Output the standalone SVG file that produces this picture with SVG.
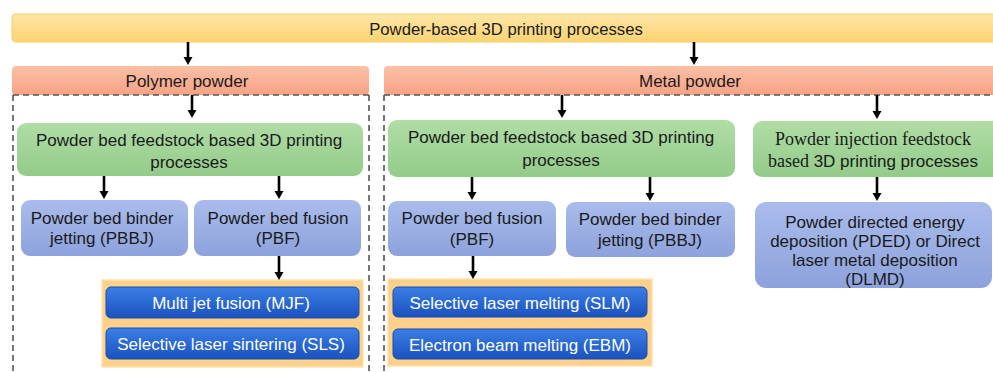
<svg xmlns="http://www.w3.org/2000/svg" width="993" height="372" viewBox="0 0 993 372">
<defs>
  <linearGradient id="gTop" x1="0" y1="0" x2="0" y2="1"><stop offset="0" stop-color="#FFE6A6"/><stop offset="1" stop-color="#FFD372"/></linearGradient>
  <linearGradient id="gSal" x1="0" y1="0" x2="0" y2="1"><stop offset="0" stop-color="#FCC0A6"/><stop offset="1" stop-color="#F6A284"/></linearGradient>
  <linearGradient id="gGreen" x1="0" y1="0" x2="0" y2="1"><stop offset="0" stop-color="#B0DDA6"/><stop offset="1" stop-color="#93CB89"/></linearGradient>
  <linearGradient id="gBlue" x1="0" y1="0" x2="0" y2="1"><stop offset="0" stop-color="#AABCEC"/><stop offset="1" stop-color="#8DA2DC"/></linearGradient>
  <linearGradient id="gBtn" x1="0" y1="0" x2="0" y2="1"><stop offset="0" stop-color="#3A7FE6"/><stop offset="1" stop-color="#1B52BE"/></linearGradient>
  <marker id="ah" viewBox="0 0 10 10" markerUnits="userSpaceOnUse" markerWidth="10" markerHeight="10" refX="2" refY="5" orient="auto">
    <path d="M0,0.5 L8,5 L0,9.5 z" fill="#000"/>
  </marker>
</defs>
<style>
  text { font-family: "Liberation Sans", Arial, sans-serif; font-size: 17px; fill: #1a1a1a; text-anchor: middle; }
  .serif { font-family: "Liberation Serif", "Times New Roman", serif; font-size: 18px; }
  .w { fill: #ffffff; }
  .bar { fill: url(#gTop); stroke: #F5CE6A; stroke-width: 1; }
  .sal { fill: url(#gSal); }
  .green { fill: url(#gGreen); }
  .blue { fill: url(#gBlue); }
  .btn { fill: url(#gBtn); stroke: #1A4CAE; stroke-width: 1; }
  .cont { fill: #FDD18C; stroke: #FFE2AE; stroke-width: 1.5; }
  .dash { stroke: #555; stroke-width: 1.6; stroke-dasharray: 6 4; fill: none; }
  .arr { stroke: #000; stroke-width: 2.6; fill: none; marker-end: url(#ah); }
</style>
<rect width="993" height="372" fill="#ffffff"/>

<g id="top">
  <rect class="bar" x="12" y="14" width="990" height="28" rx="4"/>
  <text x="506" y="35" style="font-size:16.7px">Powder-based 3D printing processes</text>
</g>

<g id="polymer-powder">
  <rect class="sal" x="12" y="66" width="357" height="29" rx="4"/>
  <text x="187" y="87">Polymer powder</text>
</g>
<g id="metal-powder">
  <rect class="sal" x="384" y="66" width="620" height="29" rx="4"/>
  <text x="690" y="87">Metal powder</text>
</g>

<g id="dashed-frames">
  <path class="dash" d="M13,95 H369 M13,95 V372 M369,95 V372"/>
  <path class="dash" d="M384,95 H993 M384,95 V372"/>
</g>

<g id="poly-bed">
  <rect class="green" x="17" y="123" width="346" height="53" rx="9"/>
  <text x="189" y="146">Powder bed feedstock based 3D printing</text>
  <text x="189" y="168">processes</text>
</g>
<g id="poly-pbbj">
  <rect class="blue" x="21" y="200" width="167" height="56" rx="9"/>
  <text x="102" y="224">Powder bed binder</text>
  <text x="102" y="244">jetting (PBBJ)</text>
</g>
<g id="poly-pbf">
  <rect class="blue" x="194" y="200" width="167" height="56" rx="9"/>
  <text x="278" y="224">Powder bed fusion</text>
  <text x="278" y="244">(PBF)</text>
</g>
<g id="poly-pbf-types">
  <rect class="cont" x="102" y="280" width="261" height="87"/>
  <g id="mjf">
    <rect class="btn" x="106" y="287" width="253" height="31" rx="5"/>
    <text class="w" x="231" y="309">Multi jet fusion (MJF)</text>
  </g>
  <g id="sls">
    <rect class="btn" x="106" y="328" width="253" height="31" rx="5"/>
    <text class="w" x="231" y="350">Selective laser sintering (SLS)</text>
  </g>
</g>

<g id="metal-bed">
  <rect class="green" x="388" y="120" width="347" height="57" rx="9"/>
  <text x="561" y="143">Powder bed feedstock based 3D printing</text>
  <text x="561" y="166">processes</text>
</g>
<g id="metal-injection">
  <rect class="green" x="753" y="121" width="250" height="56" rx="9"/>
  <text class="serif" x="873" y="145">Powder injection feedstock</text>
  <text x="873" y="167"><tspan class="serif">based</tspan> 3D printing processes</text>
</g>
<g id="metal-pbf">
  <rect class="blue" x="388" y="201" width="168" height="55" rx="9"/>
  <text x="472" y="224">Powder bed fusion</text>
  <text x="472" y="245">(PBF)</text>
</g>
<g id="metal-pbbj">
  <rect class="blue" x="566" y="202" width="169" height="55" rx="9"/>
  <text x="650" y="225">Powder bed binder</text>
  <text x="650" y="246">jetting (PBBJ)</text>
</g>
<g id="metal-pded">
  <rect class="blue" x="755" y="202" width="237" height="86" rx="11"/>
  <text x="875" y="228">Powder directed energy</text>
  <text x="875" y="247">deposition (PDED) or Direct</text>
  <text x="875" y="266">laser metal deposition</text>
  <text x="875" y="285">(DLMD)</text>
</g>
<g id="metal-pbf-types">
  <rect class="cont" x="388" y="279" width="264" height="87"/>
  <g id="slm">
    <rect class="btn" x="393" y="287" width="254" height="30" rx="5"/>
    <text class="w" x="520" y="309">Selective laser melting (SLM)</text>
  </g>
  <g id="ebm">
    <rect class="btn" x="393" y="329" width="254" height="30" rx="5"/>
    <text class="w" x="520" y="351">Electron beam melting (EBM)</text>
  </g>
</g>

<g id="connectors">
  <line class="arr" x1="188" y1="42" x2="188" y2="59"/>
  <line class="arr" x1="694" y1="42" x2="694" y2="59"/>
  <line class="arr" x1="192" y1="95" x2="192" y2="112"/>
  <line class="arr" x1="562" y1="95" x2="562" y2="112"/>
  <line class="arr" x1="877" y1="95" x2="877" y2="113"/>
  <line class="arr" x1="104" y1="176" x2="104" y2="193"/>
  <line class="arr" x1="279" y1="176" x2="279" y2="193"/>
  <line class="arr" x1="279" y1="256" x2="279" y2="274"/>
  <line class="arr" x1="472" y1="177" x2="472" y2="194"/>
  <line class="arr" x1="650" y1="177" x2="650" y2="195"/>
  <line class="arr" x1="473" y1="256" x2="473" y2="273"/>
  <line class="arr" x1="877" y1="177" x2="877" y2="195"/>
</g>
</svg>
